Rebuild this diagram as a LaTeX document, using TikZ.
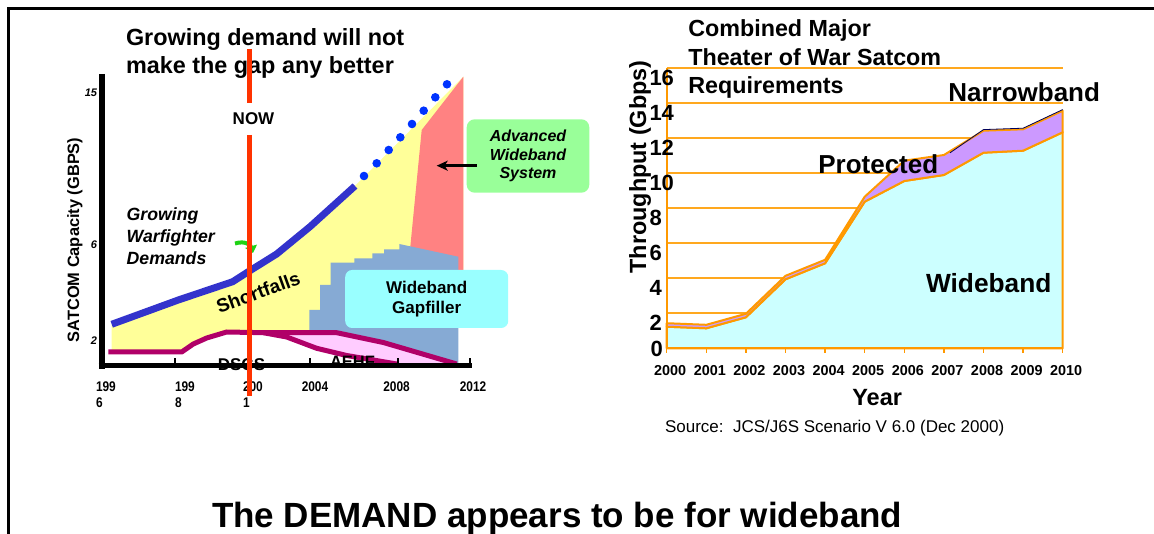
\documentclass[tikz,border=0pt]{standalone}
\usepackage{fontspec}
\setmainfont{Liberation Sans}
\newfontfamily\condsans[FakeStretch=0.85]{Liberation Sans}
\usetikzlibrary{arrows.meta}
\newcommand\fsz[2]{\fontsize{#1}{#2}\selectfont}
\definecolor{demandblue}{RGB}{51,51,204}
\definecolor{dotblue}{RGB}{0,51,255}
\definecolor{shortyellow}{RGB}{255,255,153}
\definecolor{hatchred}{RGB}{255,130,130}
\definecolor{gapblue}{RGB}{134,170,212}
\definecolor{aehfpink}{RGB}{255,204,255}
\definecolor{dscsmag}{RGB}{176,0,104}
\definecolor{nowred}{RGB}{255,51,0}
\definecolor{awsgreen}{RGB}{153,255,153}
\definecolor{gapcyan}{RGB}{153,255,255}
\definecolor{arrowgreen}{RGB}{30,210,20}
\definecolor{gridorange}{RGB}{255,168,30}
\definecolor{lineorange}{RGB}{255,153,0}
\definecolor{wbcyan}{RGB}{204,255,255}
\definecolor{protpurple}{RGB}{204,153,255}
\definecolor{nbnavy}{RGB}{0,0,90}
\begin{document}
\begin{tikzpicture}[x=1pt,y=-1pt,
  txt/.style={inner sep=0pt, outer sep=0pt},
  dscsline/.style={draw=dscsmag, line width=5pt, line join=round},
  areaedge/.style={draw=lineorange, line width=2pt, line join=round},
  roundbox/.style={inner sep=0pt, align=center}]
\useasboundingbox (0,0) rectangle (1154,534);
% frame
\draw[line width=2.5pt] (1154,8.7) -- (8.7,8.7) -- (8.7,534);

% ---------------- left chart ----------------
\fill[shortyellow] (111.7,324.3) -- (178.3,300) -- (232.7,281.7) -- (248.3,271.7) -- (276.7,254) -- (310,226.7) -- (355,186) -- (463.3,76.7) -- (463.3,300) -- (336.7,332.7) -- (263.3,332.7) -- (226.7,332) -- (206.7,338) -- (193.3,344) -- (181.7,352) -- (111.7,352) -- cycle;
\fill[hatchred] (410,250) -- (421.7,130) -- (463.3,76.7) -- (463.3,300) -- (410,300) -- cycle;
\fill[gapblue] (309.3,332.7) -- (309.3,310) -- (320,310) -- (320,285) -- (330.7,285) -- (330.7,262.7) -- (354.3,262.7) -- (354.3,258.3) -- (372.3,258.3) -- (372.3,253.3) -- (384,253.3) -- (384,249.3) -- (399.3,249.3) -- (399.3,244) -- (458.3,256.7) -- (458.3,364) -- (456.7,364) -- (383.3,342.5) -- (336.7,332.7) -- cycle;
\fill[aehfpink] (263.3,332.7) -- (336.7,332.7) -- (383.3,342.5) -- (456.7,364) -- (396.7,364) -- (346.7,355.5) -- (316.7,348.3) -- (286.7,337) -- cycle;
\draw[dscsline] (108.3,352) -- (181.7,352) -- (193.3,344) -- (206.7,338) -- (226.7,332) -- (263.3,332.7) -- (336.7,332.7) -- (383.3,342.5) -- (456.7,364);
\draw[dscsline] (263.3,332.7) -- (286.7,337) -- (316.7,348.3) -- (346.7,355.5) -- (396.7,364);
% demand line and dots
\draw[demandblue, line width=7pt, line join=round] (111.7,324.3) -- (178.3,300) -- (232.7,281.7) -- (248.3,271.7) -- (276.7,254) -- (310,226.7) -- (355,186);
\foreach \p in {(364,176),(376.7,163.3),(388.7,150),(400.3,137.3),(412,124),(423.7,110.7),(435.3,97.3),(447,84.3)}
  \fill[dotblue] \p circle[radius=4.3];
% green arrow
\draw[arrowgreen, line width=4pt, -{Triangle[length=7pt,width=12pt]}] (235,243.5) .. controls (246,240) and (251,246) .. (253,253);

% texts of left chart
\node[txt, anchor=base west, font=\fsz{23.4}{28}\bfseries] (lt1) at (126,45.4) {Growing demand will not};
\node[txt, anchor=base west, font=\fsz{23.4}{28}\bfseries] (lt2) at (126,73.4) {make the gap any better};
\node[txt, anchor=east, font=\fsz{11}{13}\bfseries\itshape] (y15) at (97,93) {15};
\node[txt, anchor=east, font=\fsz{11}{13}\bfseries\itshape] (y6) at (97,245) {6};
\node[txt, anchor=east, font=\fsz{11}{13}\bfseries\itshape] (y2) at (97,341) {2};
\node[txt, rotate=90, font=\fsz{16.4}{19}\bfseries] (ylab) at (75,240) {SATCOM Capacity (GBPS)};
\node[txt, anchor=base west, font=\fsz{17.7}{21}\bfseries\itshape] (gw1) at (126.7,221) {Growing};
\node[txt, anchor=base west, font=\fsz{17.7}{21}\bfseries\itshape] (gw2) at (126.7,242.7) {Warfighter};
\node[txt, anchor=base west, font=\fsz{17.7}{21}\bfseries\itshape] (gw3) at (126.7,264.3) {Demands};
\node[txt, rotate=20, anchor=base, font=\fsz{19}{22}\bfseries] (sf) at (260.5,298.7) {Shortfalls};
\node[txt, anchor=base, font=\fsz{17}{20}\bfseries] (dscs) at (241.5,371) {DSCS};
\node[txt, anchor=base, font=\fsz{16.5}{20}\bfseries] (aehf) at (352.5,368) {AEHF};

% axes
\draw[line width=6pt] (101.5,74) -- (101.5,369);
\draw[line width=5pt] (98.5,366) -- (472,366);
\foreach \x in {175,310,398,470} \draw[line width=2.5pt] (\x,366) -- (\x,358);

% x labels
\node[txt, anchor=base west, font=\condsans\fsz{14}{16}\bfseries] (x96a) at (96,391.7) {199};
\node[txt, anchor=base west, font=\condsans\fsz{14}{16}\bfseries] (x96b) at (96,407.7) {6};
\node[txt, anchor=base west, font=\condsans\fsz{14}{16}\bfseries] (x98a) at (175,391.7) {199};
\node[txt, anchor=base west, font=\condsans\fsz{14}{16}\bfseries] (x98b) at (175,407.7) {8};
\node[txt, anchor=base west, font=\condsans\fsz{14}{16}\bfseries] (x01a) at (243,391.7) {200};
\node[txt, anchor=base west, font=\condsans\fsz{14}{16}\bfseries] (x01b) at (243,407.7) {1};
\node[txt, anchor=base, font=\condsans\fsz{14}{16}\bfseries] (x04) at (315,391.7) {2004};
\node[txt, anchor=base, font=\condsans\fsz{14}{16}\bfseries] (x08) at (396.5,391.7) {2008};
\node[txt, anchor=base, font=\condsans\fsz{14}{16}\bfseries] (x12) at (473,391.7) {2012};

% NOW line
\node[txt, anchor=base, font=\fsz{17}{20}\bfseries] (now) at (253.5,125) {NOW};
\coordinate (nowA) at (249.5,49);
\coordinate (nowB) at (249.5,103);
\coordinate (nowC) at (249.5,135);
\coordinate (nowD) at (249.5,396);
\draw[nowred, line width=5pt] (nowA) -- (nowB);
\draw[nowred, line width=5pt] (nowC) -- (nowD);

% boxes
\node[roundbox, fill=gapcyan, rounded corners=7pt, minimum width=163pt, minimum height=58pt, font=\fsz{17}{20.7}\bfseries] (gap) at (426.7,299) {Wideband\\Gapfiller};
\node[roundbox, fill=awsgreen, rounded corners=8pt, minimum width=122.6pt, minimum height=73.4pt, font=\fsz{16}{18.5}\bfseries\itshape] (aws) at (528,156) {Advanced\\Wideband\\System};
\coordinate (awsfrom) at (476.7,165.7);
\coordinate (awstip) at (436.7,165.7);
\draw[line width=2.5pt, -{Stealth[length=11pt,width=10pt,inset=3pt]}] (awsfrom) -- (awstip);

% ---------------- right chart ----------------
\foreach \v in {2,4,...,16}
  \draw[gridorange, line width=1.8pt] (666.7,{348.3-17.5*\v}) -- (1062.7,{348.3-17.5*\v});
\filldraw[fill=wbcyan, areaedge] (666.7,348.3) -- (666.7,326.7) -- (706.3,328.3) -- (745.9,317.3) -- (785.5,279.3) -- (825.1,263.3) -- (864.7,201.7) -- (904.3,181) -- (943.9,175) -- (983.5,152.7) -- (1023.1,150.7) -- (1062.7,132.3) -- (1062.7,348.3) -- cycle;
\filldraw[fill=protpurple, areaedge] (666.7,323.2) -- (706.3,324.8) -- (745.9,313.8) -- (785.5,275.8) -- (825.1,259.8) -- (864.7,196.7) -- (904.3,160.7) -- (943.9,155) -- (983.5,130.7) -- (1023.1,129.3) -- (1062.7,110.7) -- (1062.7,132.3) -- (1023.1,150.7) -- (983.5,152.7) -- (943.9,175) -- (904.3,181) -- (864.7,201.7) -- (825.1,263.3) -- (785.5,279.3) -- (745.9,317.3) -- (706.3,328.3) -- (666.7,326.7) -- cycle;
\draw[nbnavy, line width=0.8pt] (950,152.8) -- (983.5,129.6) -- (1023.1,128.2) -- (1062.7,109.6);
\draw[lineorange, line width=2.2pt] (666.7,68.3) -- (666.7,348.3) -- (1062.7,348.3);
\foreach \i in {0,...,10} \draw[lineorange, line width=1.5pt] ({666.7+39.6*\i},348.3) -- ++(0,4.5);

\node[txt, anchor=base west, font=\fsz{22}{26}\bfseries] (yt0) at (650.5,356.4) {0};
\foreach \v in {2,4,...,16}
  \node[txt, anchor=base west, font=\fsz{22}{26}\bfseries] (yt\v) at (649.5,{365.2-17.5*\v}) {\v};
\node[txt, rotate=90, font=\fsz{23.4}{28}\bfseries] (tp) at (640,167) {Throughput (Gbps)};
\foreach \i in {0,...,10} {
  \pgfmathtruncatemacro\yr{2000+\i}
  \node[txt, anchor=base, font=\fsz{14.4}{17}\bfseries] (yr\i) at ({670.2+39.6*\i},375.7) {\yr};
}
\node[txt, anchor=base west, font=\fsz{23.5}{28}\bfseries] (year) at (852.3,406) {Year};
\node[txt, anchor=base west, font=\fsz{17}{20}] (src) at (665,432.3) {Source:\ \ JCS/J6S Scenario V 6.0 (Dec 2000)};
\node[txt, anchor=base west, font=\fsz{23.3}{28}\bfseries] (rt1) at (688.3,36.7) {Combined Major};
\node[txt, anchor=base west, font=\fsz{23.3}{28}\bfseries] (rt2) at (688.3,65.3) {Theater of War Satcom};
\node[txt, anchor=base west, font=\fsz{23.3}{28}\bfseries] (rt3) at (688.3,94) {Requirements};
\node[txt, anchor=base west, font=\fsz{26}{30}\bfseries] (nb) at (948.3,101.7) {Narrowband};
\node[txt, anchor=base west, font=\fsz{26}{30}\bfseries] (pr) at (818.3,174) {Protected};
\node[txt, anchor=base west, font=\fsz{26.3}{30}\bfseries] (wb) at (926,292.7) {Wideband};

% bottom statement
\node[txt, anchor=base west, font=\fsz{35}{40}\bfseries] (demand) at (212,527) {The DEMAND appears to be for wideband};
\end{tikzpicture}
\end{document}
